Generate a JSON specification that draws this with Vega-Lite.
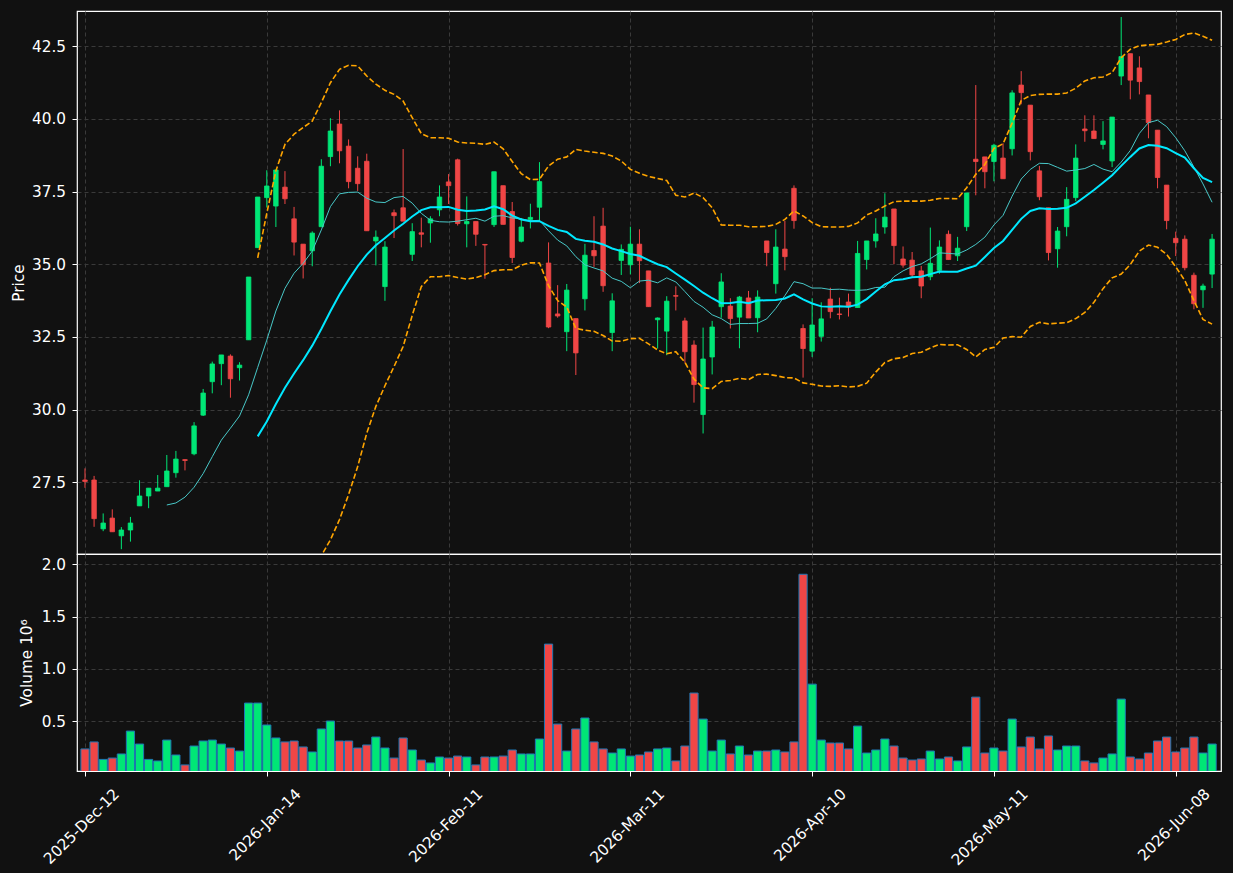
{
"$schema": "https://vega.github.io/schema/vega-lite/v6.json",
"background": "#111111",
"padding": {"left": 10, "top": 10, "right": 11, "bottom": 5},
"spacing": 0,
"bounds": "flush",
"config": {
 "font": "DejaVu Sans",
 "view": {"stroke": "#ffffff", "strokeWidth": 1.2, "fill": "#111111"},
 "axis": {"labelColor": "#ffffff", "titleColor": "#ffffff", "tickColor": "#ffffff", "domain": false, "gridColor": "#3a3a3a", "gridDash": [4, 3], "gridWidth": 1, "labelFontSize": 15.3, "titleFontSize": 15.3, "titleFontWeight": "normal", "tickSize": 5, "labelPadding": 6.5, "labelFont": "DejaVu Sans", "titleFont": "DejaVu Sans"}
},
"datasets": {"k": [
{"i":0,"o":27.58,"h":27.98,"l":27.31,"c":27.53,"v":0.233,"d":"d"},
{"i":1,"o":27.58,"h":27.72,"l":25.97,"c":26.25,"v":0.300,"d":"d"},
{"i":2,"o":25.90,"h":26.43,"l":25.82,"c":26.10,"v":0.133,"d":"u"},
{"i":3,"o":26.27,"h":26.57,"l":25.80,"c":25.80,"v":0.146,"d":"d"},
{"i":4,"o":25.66,"h":25.96,"l":25.20,"c":25.86,"v":0.185,"d":"u"},
{"i":5,"o":25.86,"h":26.31,"l":25.46,"c":26.10,"v":0.404,"d":"u"},
{"i":6,"o":26.69,"h":27.57,"l":26.69,"c":27.03,"v":0.280,"d":"u"},
{"i":7,"o":27.03,"h":27.30,"l":26.61,"c":27.30,"v":0.133,"d":"u"},
{"i":8,"o":27.20,"h":27.75,"l":27.20,"c":27.30,"v":0.118,"d":"u"},
{"i":9,"o":27.35,"h":28.44,"l":27.35,"c":27.89,"v":0.318,"d":"u","m10":26.72},
{"i":10,"o":27.83,"h":28.58,"l":27.66,"c":28.30,"v":0.175,"d":"u","m10":26.79},
{"i":11,"o":28.28,"h":28.29,"l":27.91,"c":28.25,"v":0.080,"d":"d","m10":26.99},
{"i":12,"o":28.48,"h":29.57,"l":28.43,"c":29.44,"v":0.261,"d":"u","m10":27.33},
{"i":13,"o":29.81,"h":30.71,"l":29.78,"c":30.57,"v":0.309,"d":"u","m10":27.80},
{"i":14,"o":30.96,"h":31.65,"l":30.56,"c":31.57,"v":0.318,"d":"u","m10":28.38},
{"i":15,"o":31.58,"h":31.88,"l":30.84,"c":31.88,"v":0.280,"d":"u","m10":28.95},
{"i":16,"o":31.84,"h":31.90,"l":30.41,"c":31.06,"v":0.242,"d":"d","m10":29.36},
{"i":17,"o":31.44,"h":31.63,"l":31.00,"c":31.53,"v":0.213,"d":"u","m10":29.78},
{"i":18,"o":32.40,"h":34.56,"l":32.40,"c":34.56,"v":0.672,"d":"u","m10":30.51},
{"i":19,"o":35.57,"h":37.31,"l":35.57,"c":37.31,"v":0.672,"d":"u","m10":31.45,"m20":29.08,"bu":35.22,"bl":22.94},
{"i":20,"o":37.29,"h":38.23,"l":36.95,"c":37.69,"v":0.462,"d":"u","m10":32.39,"m20":29.59,"bu":36.75,"bl":22.43},
{"i":21,"o":37.00,"h":38.24,"l":36.28,"c":38.24,"v":0.338,"d":"u","m10":33.39,"m20":30.19,"bu":38.21,"bl":22.17},
{"i":22,"o":37.65,"h":38.20,"l":37.07,"c":37.25,"v":0.300,"d":"d","m10":34.17,"m20":30.75,"bu":39.12,"bl":22.38},
{"i":23,"o":36.56,"h":36.97,"l":35.30,"c":35.76,"v":0.309,"d":"d","m10":34.69,"m20":31.24,"bu":39.47,"bl":23.01},
{"i":24,"o":35.69,"h":35.69,"l":34.51,"c":34.98,"v":0.252,"d":"d","m10":35.03,"m20":31.70,"bu":39.70,"bl":23.70},
{"i":25,"o":35.46,"h":36.13,"l":34.93,"c":36.07,"v":0.204,"d":"u","m10":35.45,"m20":32.20,"bu":39.92,"bl":24.48},
{"i":26,"o":36.29,"h":38.61,"l":36.29,"c":38.37,"v":0.424,"d":"u","m10":36.18,"m20":32.77,"bu":40.56,"bl":24.98},
{"i":27,"o":38.70,"h":40.02,"l":38.37,"c":39.58,"v":0.500,"d":"u","m10":36.98,"m20":33.38,"bu":41.24,"bl":25.52},
{"i":28,"o":39.82,"h":40.29,"l":38.47,"c":38.90,"v":0.309,"d":"d","m10":37.42,"m20":33.96,"bu":41.70,"bl":26.22},
{"i":29,"o":39.06,"h":39.29,"l":37.61,"c":37.84,"v":0.309,"d":"d","m10":37.47,"m20":34.46,"bu":41.84,"bl":27.08},
{"i":30,"o":38.30,"h":38.71,"l":37.52,"c":37.77,"v":0.242,"d":"d","m10":37.48,"m20":34.93,"bu":41.82,"bl":28.04},
{"i":31,"o":38.54,"h":38.80,"l":36.15,"c":36.15,"v":0.271,"d":"d","m10":37.27,"m20":35.33,"bu":41.47,"bl":29.19},
{"i":32,"o":35.80,"h":36.16,"l":34.96,"c":35.93,"v":0.347,"d":"u","m10":37.14,"m20":35.65,"bu":41.19,"bl":30.11},
{"i":33,"o":34.23,"h":35.79,"l":33.74,"c":35.59,"v":0.242,"d":"u","m10":37.12,"m20":35.90,"bu":40.98,"bl":30.82},
{"i":34,"o":36.77,"h":36.88,"l":35.90,"c":36.67,"v":0.146,"d":"d","m10":37.29,"m20":36.16,"bu":40.84,"bl":31.48},
{"i":35,"o":36.94,"h":38.96,"l":36.48,"c":36.48,"v":0.338,"d":"d","m10":37.33,"m20":36.39,"bu":40.61,"bl":32.17},
{"i":36,"o":35.34,"h":36.41,"l":35.11,"c":36.12,"v":0.223,"d":"u","m10":37.10,"m20":36.64,"bu":40.04,"bl":33.24},
{"i":37,"o":36.08,"h":36.60,"l":35.58,"c":36.03,"v":0.127,"d":"d","m10":36.75,"m20":36.86,"bu":39.49,"bl":34.23},
{"i":38,"o":36.42,"h":36.65,"l":35.74,"c":36.56,"v":0.099,"d":"u","m10":36.51,"m20":36.96,"bu":39.35,"bl":34.57},
{"i":39,"o":36.87,"h":37.71,"l":36.65,"c":37.31,"v":0.156,"d":"u","m10":36.46,"m20":36.96,"bu":39.35,"bl":34.57},
{"i":40,"o":37.83,"h":38.10,"l":37.07,"c":37.70,"v":0.146,"d":"d","m10":36.45,"m20":36.97,"bu":39.33,"bl":34.61},
{"i":41,"o":38.59,"h":38.63,"l":36.33,"c":36.40,"v":0.165,"d":"d","m10":36.48,"m20":36.87,"bu":39.20,"bl":34.54},
{"i":42,"o":36.39,"h":37.33,"l":35.58,"c":36.47,"v":0.156,"d":"u","m10":36.53,"m20":36.83,"bu":39.17,"bl":34.49},
{"i":43,"o":36.47,"h":36.47,"l":35.63,"c":36.03,"v":0.080,"d":"d","m10":36.58,"m20":36.85,"bu":39.16,"bl":34.54},
{"i":44,"o":35.68,"h":35.69,"l":34.50,"c":35.66,"v":0.156,"d":"d","m10":36.48,"m20":36.88,"bu":39.12,"bl":34.64},
{"i":45,"o":36.36,"h":38.18,"l":36.28,"c":38.18,"v":0.156,"d":"u","m10":36.65,"m20":36.99,"bu":39.20,"bl":34.78},
{"i":46,"o":37.70,"h":37.70,"l":36.37,"c":36.37,"v":0.165,"d":"d","m10":36.67,"m20":36.89,"bu":38.97,"bl":34.81},
{"i":47,"o":36.81,"h":37.14,"l":35.04,"c":35.23,"v":0.223,"d":"d","m10":36.59,"m20":36.67,"bu":38.53,"bl":34.81},
{"i":48,"o":35.79,"h":36.59,"l":35.75,"c":36.28,"v":0.185,"d":"u","m10":36.56,"m20":36.54,"bu":38.11,"bl":34.97},
{"i":49,"o":36.54,"h":37.08,"l":36.23,"c":36.61,"v":0.185,"d":"u","m10":36.49,"m20":36.48,"bu":37.91,"bl":35.05},
{"i":50,"o":36.96,"h":38.51,"l":36.49,"c":37.84,"v":0.328,"d":"u","m10":36.51,"m20":36.48,"bu":37.92,"bl":35.04},
{"i":51,"o":35.04,"h":35.75,"l":32.80,"c":32.84,"v":1.236,"d":"d","m10":36.15,"m20":36.32,"bu":38.38,"bl":34.26},
{"i":52,"o":33.29,"h":34.28,"l":33.16,"c":33.22,"v":0.471,"d":"d","m10":35.83,"m20":36.18,"bu":38.61,"bl":33.75},
{"i":53,"o":32.68,"h":34.32,"l":32.01,"c":34.11,"v":0.213,"d":"u","m10":35.63,"m20":36.11,"bu":38.69,"bl":33.53},
{"i":54,"o":33.13,"h":33.13,"l":31.19,"c":31.95,"v":0.424,"d":"d","m10":35.26,"m20":35.87,"bu":38.95,"bl":32.79},
{"i":55,"o":33.81,"h":35.70,"l":33.41,"c":35.31,"v":0.529,"d":"u","m10":34.98,"m20":35.81,"bu":38.89,"bl":32.73},
{"i":56,"o":35.47,"h":36.65,"l":34.91,"c":35.29,"v":0.300,"d":"d","m10":34.87,"m20":35.77,"bu":38.85,"bl":32.69},
{"i":57,"o":36.31,"h":36.94,"l":34.05,"c":34.26,"v":0.233,"d":"d","m10":34.77,"m20":35.68,"bu":38.81,"bl":32.55},
{"i":58,"o":32.65,"h":34.00,"l":32.01,"c":33.74,"v":0.194,"d":"u","m10":34.52,"m20":35.54,"bu":38.72,"bl":32.36},
{"i":59,"o":35.13,"h":35.68,"l":34.63,"c":35.51,"v":0.233,"d":"u","m10":34.41,"m20":35.45,"bu":38.55,"bl":32.35},
{"i":60,"o":34.98,"h":36.29,"l":34.65,"c":35.69,"v":0.165,"d":"u","m10":34.19,"m20":35.35,"bu":38.26,"bl":32.44},
{"i":61,"o":35.69,"h":36.20,"l":34.35,"c":35.12,"v":0.175,"d":"d","m10":34.42,"m20":35.29,"bu":38.13,"bl":32.45},
{"i":62,"o":34.77,"h":34.77,"l":33.54,"c":33.54,"v":0.204,"d":"d","m10":34.45,"m20":35.14,"bu":38.02,"bl":32.26},
{"i":63,"o":33.09,"h":33.17,"l":32.10,"c":33.15,"v":0.233,"d":"u","m10":34.36,"m20":35.00,"bu":37.95,"bl":32.05},
{"i":64,"o":32.70,"h":33.90,"l":31.87,"c":33.73,"v":0.242,"d":"u","m10":34.53,"m20":34.90,"bu":37.88,"bl":31.92},
{"i":65,"o":33.92,"h":34.24,"l":33.41,"c":33.90,"v":0.118,"d":"d","m10":34.39,"m20":34.68,"bu":37.37,"bl":31.99},
{"i":66,"o":33.05,"h":33.16,"l":31.61,"c":31.99,"v":0.261,"d":"d","m10":34.06,"m20":34.47,"bu":37.31,"bl":31.63},
{"i":67,"o":32.22,"h":32.38,"l":30.24,"c":30.86,"v":0.768,"d":"d","m10":33.72,"m20":34.25,"bu":37.45,"bl":31.05},
{"i":68,"o":29.83,"h":32.82,"l":29.18,"c":31.74,"v":0.519,"d":"u","m10":33.52,"m20":34.02,"bu":37.29,"bl":30.75},
{"i":69,"o":31.81,"h":33.05,"l":31.21,"c":32.84,"v":0.213,"d":"u","m10":33.26,"m20":33.83,"bu":36.94,"bl":30.72},
{"i":70,"o":33.54,"h":34.69,"l":33.16,"c":34.39,"v":0.318,"d":"u","m10":33.13,"m20":33.66,"bu":36.35,"bl":30.97},
{"i":71,"o":33.56,"h":33.83,"l":32.79,"c":33.13,"v":0.185,"d":"d","m10":32.93,"m20":33.67,"bu":36.34,"bl":31.00},
{"i":72,"o":33.18,"h":33.91,"l":32.11,"c":33.87,"v":0.261,"d":"u","m10":32.96,"m20":33.71,"bu":36.34,"bl":31.08},
{"i":73,"o":33.84,"h":34.08,"l":33.15,"c":33.15,"v":0.175,"d":"d","m10":32.96,"m20":33.66,"bu":36.29,"bl":31.03},
{"i":74,"o":33.16,"h":34.10,"l":32.66,"c":33.87,"v":0.213,"d":"u","m10":32.97,"m20":33.75,"bu":36.29,"bl":31.21},
{"i":75,"o":35.80,"h":35.80,"l":34.93,"c":35.40,"v":0.213,"d":"d","m10":33.12,"m20":33.76,"bu":36.30,"bl":31.22},
{"i":76,"o":34.33,"h":36.20,"l":33.99,"c":35.59,"v":0.223,"d":"u","m10":33.48,"m20":33.77,"bu":36.37,"bl":31.17},
{"i":77,"o":35.52,"h":36.49,"l":34.79,"c":35.26,"v":0.204,"d":"d","m10":33.92,"m20":33.82,"bu":36.54,"bl":31.10},
{"i":78,"o":37.61,"h":37.71,"l":36.22,"c":36.50,"v":0.300,"d":"d","m10":34.40,"m20":33.96,"bu":36.83,"bl":31.09},
{"i":79,"o":32.79,"h":32.93,"l":31.10,"c":32.10,"v":1.904,"d":"d","m10":34.33,"m20":33.79,"bu":36.66,"bl":30.92},
{"i":80,"o":32.01,"h":33.83,"l":31.81,"c":32.91,"v":0.853,"d":"u","m10":34.18,"m20":33.65,"bu":36.43,"bl":30.87},
{"i":81,"o":32.52,"h":33.69,"l":32.34,"c":33.12,"v":0.318,"d":"u","m10":34.18,"m20":33.55,"bu":36.29,"bl":30.81},
{"i":82,"o":33.80,"h":34.19,"l":33.14,"c":33.37,"v":0.290,"d":"d","m10":34.13,"m20":33.54,"bu":36.28,"bl":30.80},
{"i":83,"o":33.29,"h":33.85,"l":33.10,"c":33.27,"v":0.290,"d":"d","m10":34.14,"m20":33.55,"bu":36.28,"bl":30.82},
{"i":84,"o":33.70,"h":33.99,"l":33.20,"c":33.53,"v":0.233,"d":"d","m10":34.11,"m20":33.54,"bu":36.30,"bl":30.78},
{"i":85,"o":33.51,"h":35.80,"l":33.51,"c":35.37,"v":0.452,"d":"u","m10":34.10,"m20":33.61,"bu":36.42,"bl":30.80},
{"i":86,"o":35.16,"h":35.80,"l":34.82,"c":35.80,"v":0.194,"d":"u","m10":34.12,"m20":33.80,"bu":36.69,"bl":30.91},
{"i":87,"o":35.80,"h":36.58,"l":35.57,"c":36.04,"v":0.223,"d":"u","m10":34.20,"m20":34.06,"bu":36.83,"bl":31.29},
{"i":88,"o":36.28,"h":37.44,"l":36.05,"c":36.62,"v":0.328,"d":"u","m10":34.21,"m20":34.31,"bu":37.00,"bl":31.62},
{"i":89,"o":36.90,"h":36.90,"l":35.00,"c":35.64,"v":0.261,"d":"d","m10":34.57,"m20":34.45,"bu":37.15,"bl":31.75},
{"i":90,"o":35.18,"h":35.61,"l":34.88,"c":34.97,"v":0.146,"d":"d","m10":34.77,"m20":34.48,"bu":37.17,"bl":31.79},
{"i":91,"o":35.14,"h":35.42,"l":34.54,"c":34.63,"v":0.127,"d":"d","m10":34.92,"m20":34.55,"bu":37.17,"bl":31.93},
{"i":92,"o":34.77,"h":34.94,"l":33.83,"c":34.25,"v":0.137,"d":"d","m10":35.01,"m20":34.57,"bu":37.17,"bl":31.97},
{"i":93,"o":34.57,"h":36.26,"l":34.45,"c":35.03,"v":0.213,"d":"u","m10":35.19,"m20":34.66,"bu":37.20,"bl":32.12},
{"i":94,"o":34.79,"h":35.82,"l":34.67,"c":35.59,"v":0.137,"d":"u","m10":35.39,"m20":34.75,"bu":37.26,"bl":32.24},
{"i":95,"o":36.03,"h":36.16,"l":35.16,"c":35.16,"v":0.156,"d":"d","m10":35.37,"m20":34.74,"bu":37.26,"bl":32.22},
{"i":96,"o":35.29,"h":35.94,"l":35.11,"c":35.55,"v":0.118,"d":"u","m10":35.35,"m20":34.74,"bu":37.25,"bl":32.23},
{"i":97,"o":36.29,"h":37.45,"l":36.14,"c":37.45,"v":0.252,"d":"u","m10":35.49,"m20":34.85,"bu":37.63,"bl":32.07},
{"i":98,"o":38.61,"h":41.16,"l":37.37,"c":38.53,"v":0.729,"d":"d","m10":35.68,"m20":34.95,"bu":38.09,"bl":31.81},
{"i":99,"o":38.69,"h":38.69,"l":37.61,"c":38.18,"v":0.194,"d":"d","m10":35.93,"m20":35.25,"bu":38.43,"bl":32.07},
{"i":100,"o":38.53,"h":39.14,"l":37.85,"c":39.09,"v":0.242,"d":"u","m10":36.35,"m20":35.56,"bu":38.98,"bl":32.14},
{"i":101,"o":38.65,"h":39.16,"l":37.94,"c":37.94,"v":0.213,"d":"d","m10":36.68,"m20":35.80,"bu":39.14,"bl":32.46},
{"i":102,"o":38.97,"h":40.98,"l":38.74,"c":40.89,"v":0.519,"d":"u","m10":37.34,"m20":36.18,"bu":39.85,"bl":32.51},
{"i":103,"o":41.16,"h":41.64,"l":40.50,"c":40.90,"v":0.252,"d":"d","m10":37.93,"m20":36.56,"bu":40.63,"bl":32.49},
{"i":104,"o":40.47,"h":40.47,"l":38.57,"c":38.87,"v":0.347,"d":"d","m10":38.26,"m20":36.83,"bu":40.80,"bl":32.86},
{"i":105,"o":38.21,"h":38.38,"l":37.20,"c":37.32,"v":0.233,"d":"d","m10":38.47,"m20":36.92,"bu":40.84,"bl":33.00},
{"i":106,"o":36.94,"h":36.94,"l":35.13,"c":35.40,"v":0.357,"d":"d","m10":38.46,"m20":36.90,"bu":40.85,"bl":32.95},
{"i":107,"o":35.53,"h":36.28,"l":34.88,"c":36.14,"v":0.223,"d":"u","m10":38.33,"m20":36.91,"bu":40.85,"bl":32.97},
{"i":108,"o":36.29,"h":37.65,"l":35.96,"c":37.23,"v":0.261,"d":"u","m10":38.20,"m20":36.94,"bu":40.89,"bl":32.99},
{"i":109,"o":37.29,"h":39.12,"l":37.17,"c":38.65,"v":0.261,"d":"u","m10":38.24,"m20":37.09,"bu":41.05,"bl":33.13},
{"i":110,"o":39.65,"h":40.12,"l":39.21,"c":39.59,"v":0.118,"d":"d","m10":38.29,"m20":37.32,"bu":41.30,"bl":33.34},
{"i":111,"o":39.58,"h":40.12,"l":39.32,"c":39.32,"v":0.099,"d":"d","m10":38.43,"m20":37.55,"bu":41.41,"bl":33.69},
{"i":112,"o":39.12,"h":39.92,"l":38.95,"c":39.24,"v":0.146,"d":"u","m10":38.27,"m20":37.80,"bu":41.44,"bl":34.16},
{"i":113,"o":38.55,"h":40.06,"l":38.34,"c":40.06,"v":0.185,"d":"u","m10":38.18,"m20":38.06,"bu":41.59,"bl":34.53},
{"i":114,"o":41.47,"h":43.50,"l":41.16,"c":42.14,"v":0.710,"d":"u","m10":38.51,"m20":38.38,"bu":42.10,"bl":34.66},
{"i":115,"o":42.24,"h":42.24,"l":40.67,"c":41.33,"v":0.156,"d":"d","m10":38.91,"m20":38.69,"bu":42.39,"bl":34.99},
{"i":116,"o":41.75,"h":42.15,"l":40.84,"c":41.28,"v":0.137,"d":"d","m10":39.50,"m20":38.98,"bu":42.51,"bl":35.45},
{"i":117,"o":40.82,"h":40.82,"l":39.33,"c":39.87,"v":0.194,"d":"d","m10":39.87,"m20":39.10,"bu":42.54,"bl":35.66},
{"i":118,"o":39.61,"h":39.61,"l":37.61,"c":37.98,"v":0.309,"d":"d","m10":39.95,"m20":39.07,"bu":42.56,"bl":35.58},
{"i":119,"o":37.72,"h":37.72,"l":36.20,"c":36.50,"v":0.347,"d":"d","m10":39.73,"m20":38.99,"bu":42.64,"bl":35.34},
{"i":120,"o":35.89,"h":36.12,"l":35.28,"c":35.74,"v":0.204,"d":"d","m10":39.35,"m20":38.82,"bu":42.73,"bl":34.91},
{"i":121,"o":35.86,"h":35.99,"l":34.79,"c":34.88,"v":0.242,"d":"d","m10":38.90,"m20":38.67,"bu":42.90,"bl":34.44},
{"i":122,"o":34.62,"h":34.71,"l":33.45,"c":33.64,"v":0.347,"d":"d","m10":38.34,"m20":38.30,"bu":42.95,"bl":33.75},
{"i":123,"o":34.12,"h":34.33,"l":33.50,"c":34.25,"v":0.194,"d":"u","m10":37.76,"m20":37.97,"bu":42.84,"bl":33.10},
{"i":124,"o":34.66,"h":36.04,"l":34.18,"c":35.86,"v":0.280,"d":"u","m10":37.13,"m20":37.82,"bu":42.70,"bl":32.94}
]},
"vconcat": [
 {
  "width": 1144, "height": 543,
  "data": {"name": "k"},
  "encoding": {
   "x": {"field": "i", "type": "quantitative", "scale": {"domain": [-0.33, 124.43], "nice": false, "zero": false}, "axis": {"values": [0, 20, 40, 60, 80, 100, 120], "labels": false, "ticks": false, "title": null, "grid": true}}
  },
  "layer": [
   {"mark": {"type": "rule", "strokeWidth": 1},
    "encoding": {
     "y": {"field": "l", "type": "quantitative", "title": "Price", "scale": {"domain": [25.035, 43.707], "nice": false, "zero": false}, "axis": {"values": [27.5, 30, 32.5, 35, 37.5, 40, 42.5], "format": ".1f", "titlePadding": 5, "grid": true}},
     "y2": {"field": "h"},
     "color": {"field": "d", "type": "nominal", "scale": {"domain": ["u", "d"], "range": ["#00e676", "#f04646"]}, "legend": null}
    }},
   {"mark": {"type": "bar", "size": 4.5, "strokeWidth": 0.8},
    "encoding": {
     "y": {"field": "o", "type": "quantitative", "title": "Price"},
     "y2": {"field": "c"},
     "color": {"field": "d", "type": "nominal", "scale": {"domain": ["u", "d"], "range": ["#00e676", "#f04646"]}, "legend": null},
     "stroke": {"field": "d", "type": "nominal", "scale": {"domain": ["u", "d"], "range": ["#00e676", "#f04646"]}, "legend": null}
    }},
   {"mark": {"type": "line", "color": "#48c8c8", "strokeWidth": 1, "clip": true},
    "encoding": {"y": {"field": "m10", "type": "quantitative", "title": "Price"}}},
   {"mark": {"type": "line", "color": "#00e8ff", "strokeWidth": 2, "clip": true},
    "encoding": {"y": {"field": "m20", "type": "quantitative", "title": "Price"}}},
   {"mark": {"type": "line", "color": "#ffa500", "strokeWidth": 1.6, "strokeDash": [5.5, 2.5], "clip": true},
    "encoding": {"y": {"field": "bu", "type": "quantitative", "title": "Price"}}},
   {"mark": {"type": "line", "color": "#ffa500", "strokeWidth": 1.6, "strokeDash": [5.5, 2.5], "clip": true},
    "encoding": {"y": {"field": "bl", "type": "quantitative", "title": "Price"}}}
  ]
 },
 {
  "width": 1144, "height": 217,
  "data": {"name": "k"},
  "mark": {"type": "bar", "size": 8.2, "stroke": "#1f77b4", "strokeWidth": 1, "clip": true},
  "encoding": {
   "x": {"field": "i", "type": "quantitative", "scale": {"domain": [-0.33, 124.43], "nice": false, "zero": false}, "axis": {"values": [0, 20, 40, 60, 80, 100, 120], "labelExpr": "['2025-Dec-12','2026-Jan-14','2026-Feb-11','2026-Mar-11','2026-Apr-10','2026-May-11','2026-Jun-08'][round(datum.value/20)]", "labelAngle": -45, "labelAlign": "right", "labelBaseline": "middle", "labelOffset": 31, "labelPadding": 15, "labelFlush": false, "labelOverlap": false, "title": null, "grid": true}},
   "y": {"field": "v", "type": "quantitative", "title": "Volume  10⁶", "scale": {"domain": [0.022, 2.098], "nice": false, "zero": false}, "axis": {"values": [0.5, 1, 1.5, 2], "format": ".1f", "titlePadding": 7, "grid": true}},
   "y2": {"datum": 0},
   "color": {"field": "d", "type": "nominal", "scale": {"domain": ["u", "d"], "range": ["#00ff80", "#ff4545"]}, "legend": null}
  }
 }
]
}
